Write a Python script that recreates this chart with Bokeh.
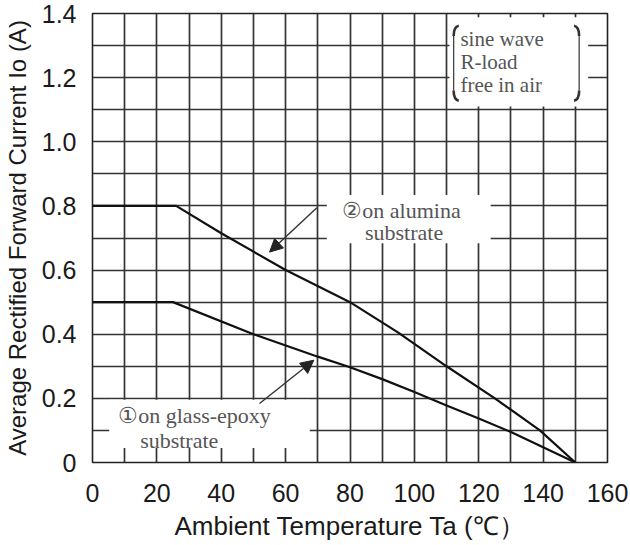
from bokeh.plotting import figure
from bokeh.models import FixedTicker, Range1d, Arrow, NormalHead
from bokeh.core.properties import value
from bokeh.embed import file_html
from bokeh.resources import INLINE

# ---- data ----
x_major = [0, 20, 40, 60, 80, 100, 120, 140, 160]
x_minor = [10, 30, 50, 70, 90, 110, 130, 150]
y_major = [0, 0.2, 0.4, 0.6, 0.8, 1.0, 1.2, 1.4]
y_minor = [0.1, 0.3, 0.5, 0.7, 0.9, 1.1, 1.3]
y_labels = ["0", "0.2", "0.4", "0.6", "0.8", "1.0", "1.2", "1.4"]

# (1) on glass-epoxy substrate
temp_glass = [0, 25, 50, 70, 80, 90, 100, 110, 120, 130, 150]
io_glass = [0.5, 0.5, 0.40, 0.33, 0.297, 0.26, 0.22, 0.178, 0.137, 0.095, 0.0]
# (2) on alumina substrate
temp_alumina = [0, 26, 40, 60, 80, 95, 110, 125, 139, 150]
io_alumina = [0.8, 0.8, 0.715, 0.6, 0.5, 0.405, 0.3, 0.2, 0.1, 0.0]

label_alumina = ["②on alumina", "substrate"]
label_glass = ["①on glass-epoxy", "substrate"]
cond_lines = ["sine wave", "R-load", "free in air"]

p = figure(width=630, height=545, output_backend="svg", toolbar_location=None,
           x_range=Range1d(0, 160), y_range=Range1d(0, 1.4),
           min_border_left=92, min_border_right=23, min_border_top=13, min_border_bottom=83)
p.background_fill_color = "white"
p.border_fill_color = "white"
p.outline_line_color = "#222222"
p.outline_line_width = 1.6

p.xaxis.ticker = FixedTicker(ticks=x_major, minor_ticks=x_minor)
p.yaxis.ticker = FixedTicker(ticks=y_major, minor_ticks=y_minor)
p.yaxis.major_label_overrides = {v: s for v, s in zip(y_major, y_labels)}
p.xaxis.major_label_overrides = {v: str(v) for v in x_major}

for ax in (p.xaxis[0], p.yaxis[0]):
    ax.axis_line_color = None
    ax.major_tick_line_color = None
    ax.minor_tick_line_color = None
    ax.major_label_text_font = "Liberation Sans"
    ax.major_label_text_color = "#1a1a1a"
    ax.axis_label_text_font = "Liberation Sans"
    ax.axis_label_text_font_style = "normal"
    ax.axis_label_text_color = "#1a1a1a"

p.xaxis.major_label_text_font_size = "25px"
p.yaxis.major_label_text_font_size = "25px"
p.xaxis.major_label_standoff = 15
p.yaxis.major_label_standoff = 10
p.xaxis.axis_label = "Ambient Temperature Ta (℃）"
p.yaxis.axis_label = "Average Rectified Forward Current Io (A)"
p.xaxis.axis_label_text_font_size = "26px"
p.yaxis.axis_label_text_font_size = "24px"
p.xaxis.axis_label_standoff = 6
p.yaxis.axis_label_standoff = 8

for g in (p.xgrid[0], p.ygrid[0]):
    g.grid_line_color = "#333333"
    g.grid_line_width = 1.7
    g.minor_grid_line_color = "#333333"
    g.minor_grid_line_width = 1.7

# white label boxes covering the grid
p.quad(left=[110.9, 72.8, 5.2], right=[154.0, 123.7, 67.5],
       bottom=[1.11, 0.684, 0.045], top=[1.388, 0.834, 0.196],
       fill_color="white", line_color=None)

# curves
p.line(temp_alumina, io_alumina, line_color="#111111", line_width=2.2)
p.line(temp_glass, io_glass, line_color="#111111", line_width=2.2)

# arrows
p.add_layout(Arrow(end=NormalHead(size=13, fill_color="#222222", line_color="#222222"),
                   x_start=69.7, y_start=0.794, x_end=55.0, y_end=0.656,
                   line_color="#333333", line_width=1.4))
p.add_layout(Arrow(end=NormalHead(size=13, fill_color="#222222", line_color="#222222"),
                   x_start=51.9, y_start=0.184, x_end=68.75, y_end=0.319,
                   line_color="#333333", line_width=1.4))

serif = value("Liberation Serif")
p.text(x=[96.0, 96.8], y=[0.787, 0.716], text=label_alumina, text_font=serif,
       text_font_size="22px", text_color="#555555", text_align="center",
       text_baseline="middle")
p.text(x=[8.0, 14.8], y=[0.147, 0.069], text=label_glass, text_font=serif,
       text_font_size="22px", text_color="#555555", text_align="left",
       text_baseline="middle")
p.text(x=[114.3, 114.3, 114.3], y=[1.319, 1.250, 1.178], text=cond_lines, text_font=serif,
       text_font_size="21px", text_color="#555555", text_align="left",
       text_baseline="middle")

# brackets around the conditions
p.segment(x0=[112.2, 151.2], y0=[1.33, 1.33], x1=[112.2, 151.2], y1=[1.16, 1.16],
          line_color="#444444", line_width=1.3)
p.bezier(x0=[112.2, 112.2, 151.2, 151.2], y0=[1.33, 1.16, 1.33, 1.16],
         x1=[113.8, 113.8, 149.6, 149.6], y1=[1.362, 1.128, 1.362, 1.128],
         cx0=[112.2, 112.2, 151.2, 151.2], cy0=[1.35, 1.14, 1.35, 1.14],
         cx1=[112.8, 112.8, 150.6, 150.6], cy1=[1.36, 1.13, 1.36, 1.13],
         line_color="#333333", line_width=2.6)

open("out.html", "w").write(file_html(p, INLINE))
